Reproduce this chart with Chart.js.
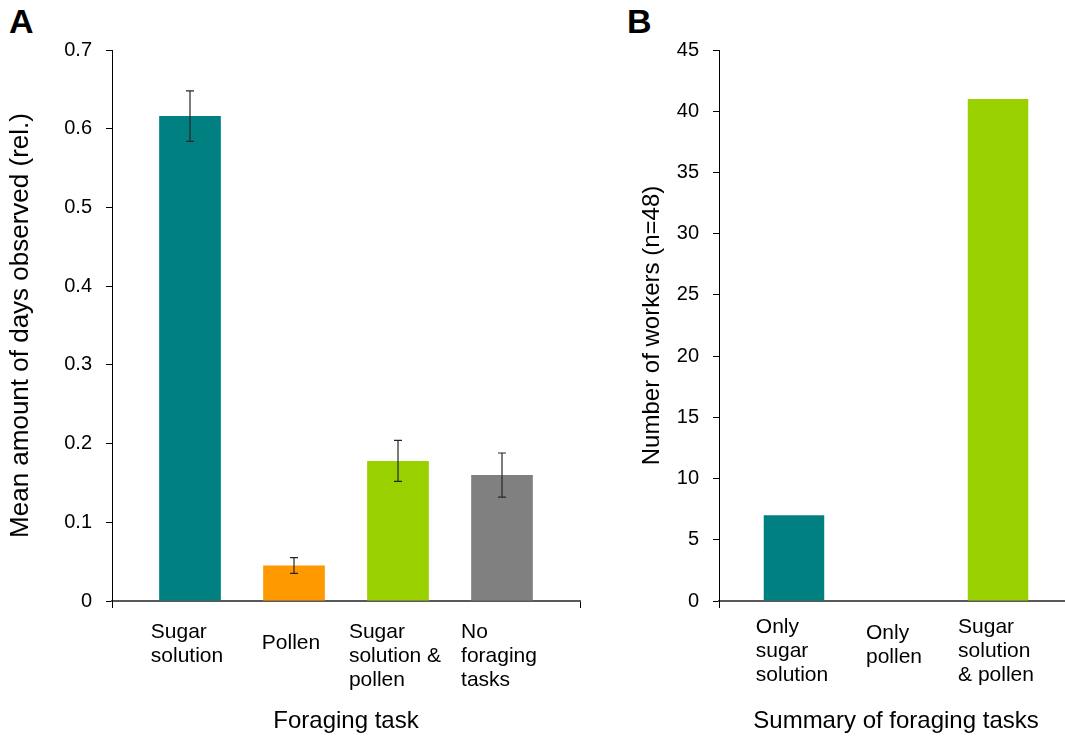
<!DOCTYPE html>
<html>
<head>
<meta charset="utf-8">
<script src="https://cdn.jsdelivr.net/npm/chart.js@4.4.1/dist/chart.umd.min.js"></script>
<style>
    html, body { margin: 0; padding: 0; background: #fff; }
    #wrap { position: relative; width: 1065px; height: 737px; overflow: hidden; font-family: "Liberation Sans", Arial, sans-serif; }
    canvas { position: absolute; top: 0; }
    .panel { position: absolute; top: 4px; font-weight: bold; font-size: 34px; line-height: 34px; color: #000; }
</style>
</head>
<body>
<div id="wrap">
    <div class="panel" style="left:9px">A</div>
    <div class="panel" style="left:627px">B</div>
    <canvas id="chartA" width="590" height="737" style="left:0"></canvas>
    <canvas id="chartB" width="483" height="737" style="left:590px"></canvas>
</div>
<script>
// panel A: foraging task per worker
var taskLabels = [["Sugar", "solution"], ["Pollen"], ["Sugar", "solution &", "pollen"], ["No", "foraging", "tasks"]];
var taskMeans = [0.616, 0.045, 0.178, 0.160];
var taskErrors = [0.032, 0.010, 0.026, 0.028];
var taskColors = ['#008080', '#FF9900', '#99D100', '#808080'];
var taskTicks = [0, 0.1, 0.2, 0.3, 0.4, 0.5, 0.6, 0.7];

// panel B: summary of foraging tasks
var summaryLabels = [["Only", "sugar", "solution"], ["Only", "pollen"], ["Sugar", "solution", "& pollen"]];
var summaryCounts = [7, 0, 41];
var summaryColors = ['#008080', '#FF9900', '#99D100'];
var summaryTicks = [0, 5, 10, 15, 20, 25, 30, 35, 40, 45];

Chart.defaults.font.family = '"Liberation Sans", Arial, sans-serif';
Chart.defaults.color = '#000';

// multi-line category labels, left aligned inside a block centred on the bar
function categoryLabels(lines, firstY, lineH, shifts, dx) {
    return {
        id: 'catLabels',
        afterDraw: function (chart) {
            var ctx = chart.ctx;
            var xs = chart.scales.x;
            ctx.save();
            ctx.font = '21px "Liberation Sans", Arial, sans-serif';
            ctx.fillStyle = '#000';
            ctx.textBaseline = 'middle';
            ctx.textAlign = 'left';
            lines.forEach(function (label, i) {
                var cx = xs.getPixelForValue(i + 1) + dx;
                var w = Math.max.apply(null, label.map(function (t) { return ctx.measureText(t).width; }));
                var y = firstY + shifts[i];
                label.forEach(function (t, k) {
                    ctx.fillText(t, cx - w / 2, y + k * lineH);
                });
            });
            ctx.restore();
        }
    };
}

function errorBars(errors) {
    return {
        id: 'errBars',
        afterDatasetsDraw: function (chart) {
            if (!errors) return;
            var ctx = chart.ctx;
            var xs = chart.scales.x, ys = chart.scales.y;
            var pts = chart.data.datasets[0].data;
            ctx.save();
            ctx.strokeStyle = '#262626';
            ctx.lineWidth = 1.2;
            pts.forEach(function (p, i) {
                var x = xs.getPixelForValue(p.x);
                var hi = ys.getPixelForValue(p.y + errors[i]);
                var lo = ys.getPixelForValue(p.y - errors[i]);
                ctx.beginPath();
                ctx.moveTo(x, hi); ctx.lineTo(x, lo);
                ctx.moveTo(x - 4, hi); ctx.lineTo(x + 4, hi);
                ctx.moveTo(x - 4, lo); ctx.lineTo(x + 4, lo);
                ctx.stroke();
            });
            ctx.restore();
        }
    };
}

function makeChart(id, opt) {
    var points = opt.values.map(function (v, i) { return { x: i + 1, y: v }; });
    return new Chart(document.getElementById(id), {
        type: 'bar',
        data: {
            datasets: [{
                data: points,
                backgroundColor: opt.colors,
                borderWidth: 0,
                barPercentage: 0.593,
                categoryPercentage: 1
            }]
        },
        options: {
            responsive: false,
            animation: false,
            events: [],
            layout: { padding: { left: 0, top: 50, right: opt.padRight, bottom: 0 } },
            plugins: { legend: { display: false }, tooltip: { enabled: false } },
            scales: {
                x: {
                    type: 'linear',
                    min: opt.xMin,
                    max: opt.xMax,
                    offset: false,
                    grid: { display: true, offset: false, drawOnChartArea: false, drawTicks: true, tickLength: 7, color: '#000', lineWidth: 1 },
                    border: { display: true, color: '#595959', width: 2 },
                    ticks: { display: false },
                    afterBuildTicks: function (s) { s.ticks = opt.xEdges.map(function (v) { return { value: v }; }); },
                    afterFit: function (s) { s.height = 136; },
                    title: {
                        display: true,
                        text: opt.xTitle,
                        font: { size: 24 },
                        color: '#000',
                        padding: { top: 0, bottom: 1 }
                    }
                },
                y: {
                    min: opt.yTicks[0],
                    max: opt.yTicks[opt.yTicks.length - 1],
                    grid: { display: true, drawOnChartArea: false, drawTicks: true, tickLength: 6, color: '#000', lineWidth: 1 },
                    border: { display: true, color: '#000', width: 1 },
                    afterBuildTicks: function (s) { s.ticks = opt.yTicks.map(function (v) { return { value: v }; }); },
                    ticks: {
                        font: { size: 20 },
                        color: '#000',
                        padding: 14,
                        callback: function (v) { return String(v); }
                    },
                    afterFit: function (s) { s.width = opt.yWidth; },
                    title: {
                        display: true,
                        text: opt.yTitle,
                        font: { size: opt.yTitleSize },
                        color: '#000',
                        padding: { top: opt.yTitlePad, bottom: 0 }
                    }
                }
            }
        },
        plugins: [categoryLabels(opt.labels, opt.labelY, 24, opt.labelShift, opt.labelDx), errorBars(opt.errors)]
    });
}

makeChart('chartA', {
    labels: taskLabels,
    values: taskMeans,
    errors: taskErrors,
    colors: taskColors,
    yTicks: taskTicks,
    xMin: 0.25, xMax: 4.75, xEdges: [0.25, 4.75],
    padRight: 10,
    yWidth: 112,
    yTitleSize: 26,
    yTitlePad: 5,
    labelY: 632,
    labelShift: [0, 11, 0, 0],
    labelDx: -3,
    xTitle: 'Foraging task',
    yTitle: 'Mean amount of days observed (rel.)'
});

makeChart('chartB', {
    labels: summaryLabels,
    values: summaryCounts,
    errors: null,
    colors: summaryColors,
    yTicks: summaryTicks,
    xMin: 0.265, xMax: 3.735, xEdges: [0.265],
    padRight: 0,
    yWidth: 129,
    yTitleSize: 24,
    yTitlePad: 48,
    labelY: 627,
    labelShift: [0, 6, 0],
    labelDx: -2,
    xTitle: 'Summary of foraging tasks',
    yTitle: 'Number of workers (n=48)'
});
</script>
</body>
</html>
